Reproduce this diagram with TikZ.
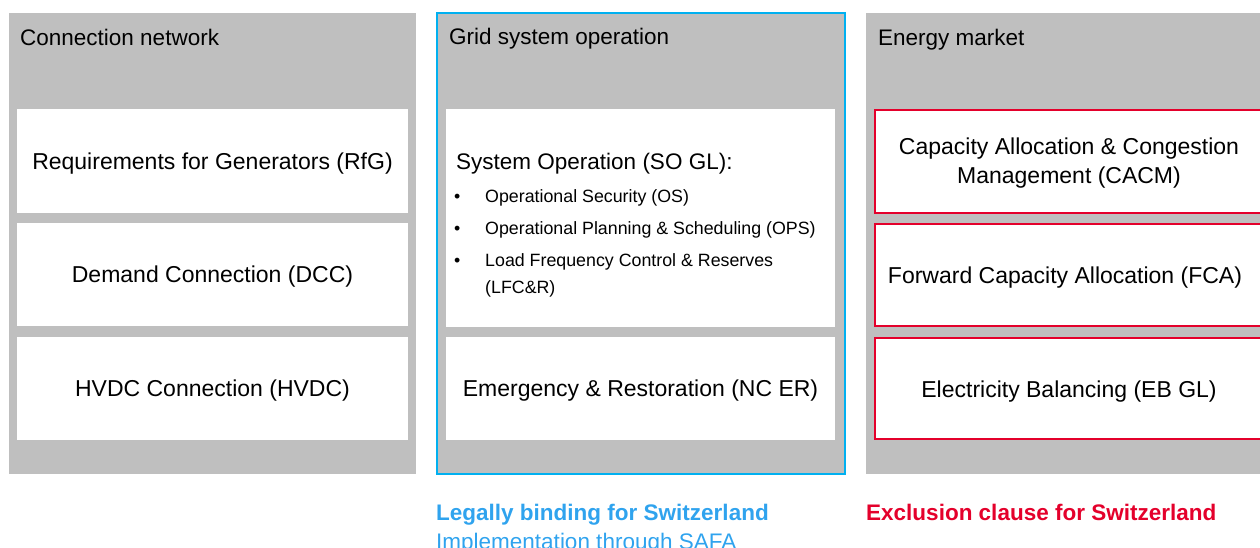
\documentclass[tikz,border=0pt]{standalone}
\usepackage{fontspec}
\setmainfont{Liberation Sans}
\usepackage{tikz}
\usetikzlibrary{positioning}

\definecolor{panelgray}{HTML}{BFBFBF}
\definecolor{gridblue}{HTML}{00B0F0}
\definecolor{notelblue}{HTML}{2FA3EE}
\definecolor{marketred}{HTML}{E4002B}

\tikzset{
  panel/.style={fill=panelgray, draw=none},
  codebox/.style={fill=white, draw=none},
  marketbox/.style={fill=white, draw=marketred, line width=2pt},
  heading/.style={anchor=base west, inner sep=0pt, font=\fontsize{22.5}{28}\selectfont},
  boxtext/.style={inner sep=0pt, align=center, yshift=-2.5pt, font=\fontsize{23}{29}\selectfont},
  itemtext/.style={anchor=base west, inner sep=0pt, font=\fontsize{17.8}{22}\selectfont},
  notetext/.style={anchor=base west, inner sep=0pt, font=\fontsize{22.5}{28}\selectfont}
}

\begin{document}
\begin{tikzpicture}[x=1pt, y=-1pt]
  \useasboundingbox (0,0) rectangle (1260,548);

  % connection network
  \draw[panel] (9,13) rectangle (416,474);
  \node[heading] (conntitle) at (20,46) {Connection network};
  \draw[codebox] (17,109) rectangle (408,213) node[midway, boxtext] (rfg) {Requirements for Generators (RfG)};
  \draw[codebox] (17,223) rectangle (408,326) node[midway, boxtext] (dcc) {Demand Connection (DCC)};
  \draw[codebox] (17,337) rectangle (408,440) node[midway, boxtext] (hvdc) {HVDC Connection (HVDC)};

  % grid system operation
  \draw[panel, draw=gridblue, line width=2pt] (437,13) rectangle (845,474);
  \node[heading] (gridtitle) at (449,45) {Grid system operation};
  \draw[codebox] (446,109) rectangle (835,327);
  \node[heading] (sogl) at (456,170) {System Operation (SO GL):};
  \node[itemtext] (os) at (485,202) {Operational Security (OS)};
  \node[itemtext] (ops) at (485,234) {Operational Planning \& Scheduling (OPS)};
  \node[itemtext] (lfc) at (485,266) {Load Frequency Control \& Reserves};
  \node[itemtext] (lfcr) at (485,293) {(LFC\&R)};
  \node[itemtext] (dotos) at (454,202) {\textbullet};
  \node[itemtext] (dotops) at (454,234) {\textbullet};
  \node[itemtext] (dotlfc) at (454,266) {\textbullet};
  \draw[codebox] (446,337) rectangle (835,440) node[midway, boxtext] (ncer) {Emergency \& Restoration (NC ER)};

  % energy market
  \draw[panel] (866,13) rectangle (1280,474);
  \node[heading] (markettitle) at (878,46) {Energy market};
  \draw[marketbox] (875,110) rectangle (1290,213);
  \node[boxtext] (cacm) at (1069,161) {Capacity Allocation \& Congestion\\Management (CACM)};
  \draw[marketbox] (875,224) rectangle (1290,326);
  \node[boxtext] (fca) at (1065,275) {Forward Capacity Allocation (FCA)};
  \draw[marketbox] (875,338) rectangle (1290,439);
  \node[boxtext] (ebgl) at (1069,389) {Electricity Balancing (EB GL)};

  % notes below
  \node[notetext, text=notelblue, font=\fontsize{22.5}{28}\selectfont\bfseries] (binding) at (436,520) {Legally binding for Switzerland};
  \node[notetext, text=notelblue] (safa) at (436,549) {Implementation through SAFA};
  \node[notetext, text=marketred, font=\fontsize{22.5}{28}\selectfont\bfseries] (exclusion) at (866,520) {Exclusion clause for Switzerland};
\end{tikzpicture}
\end{document}
